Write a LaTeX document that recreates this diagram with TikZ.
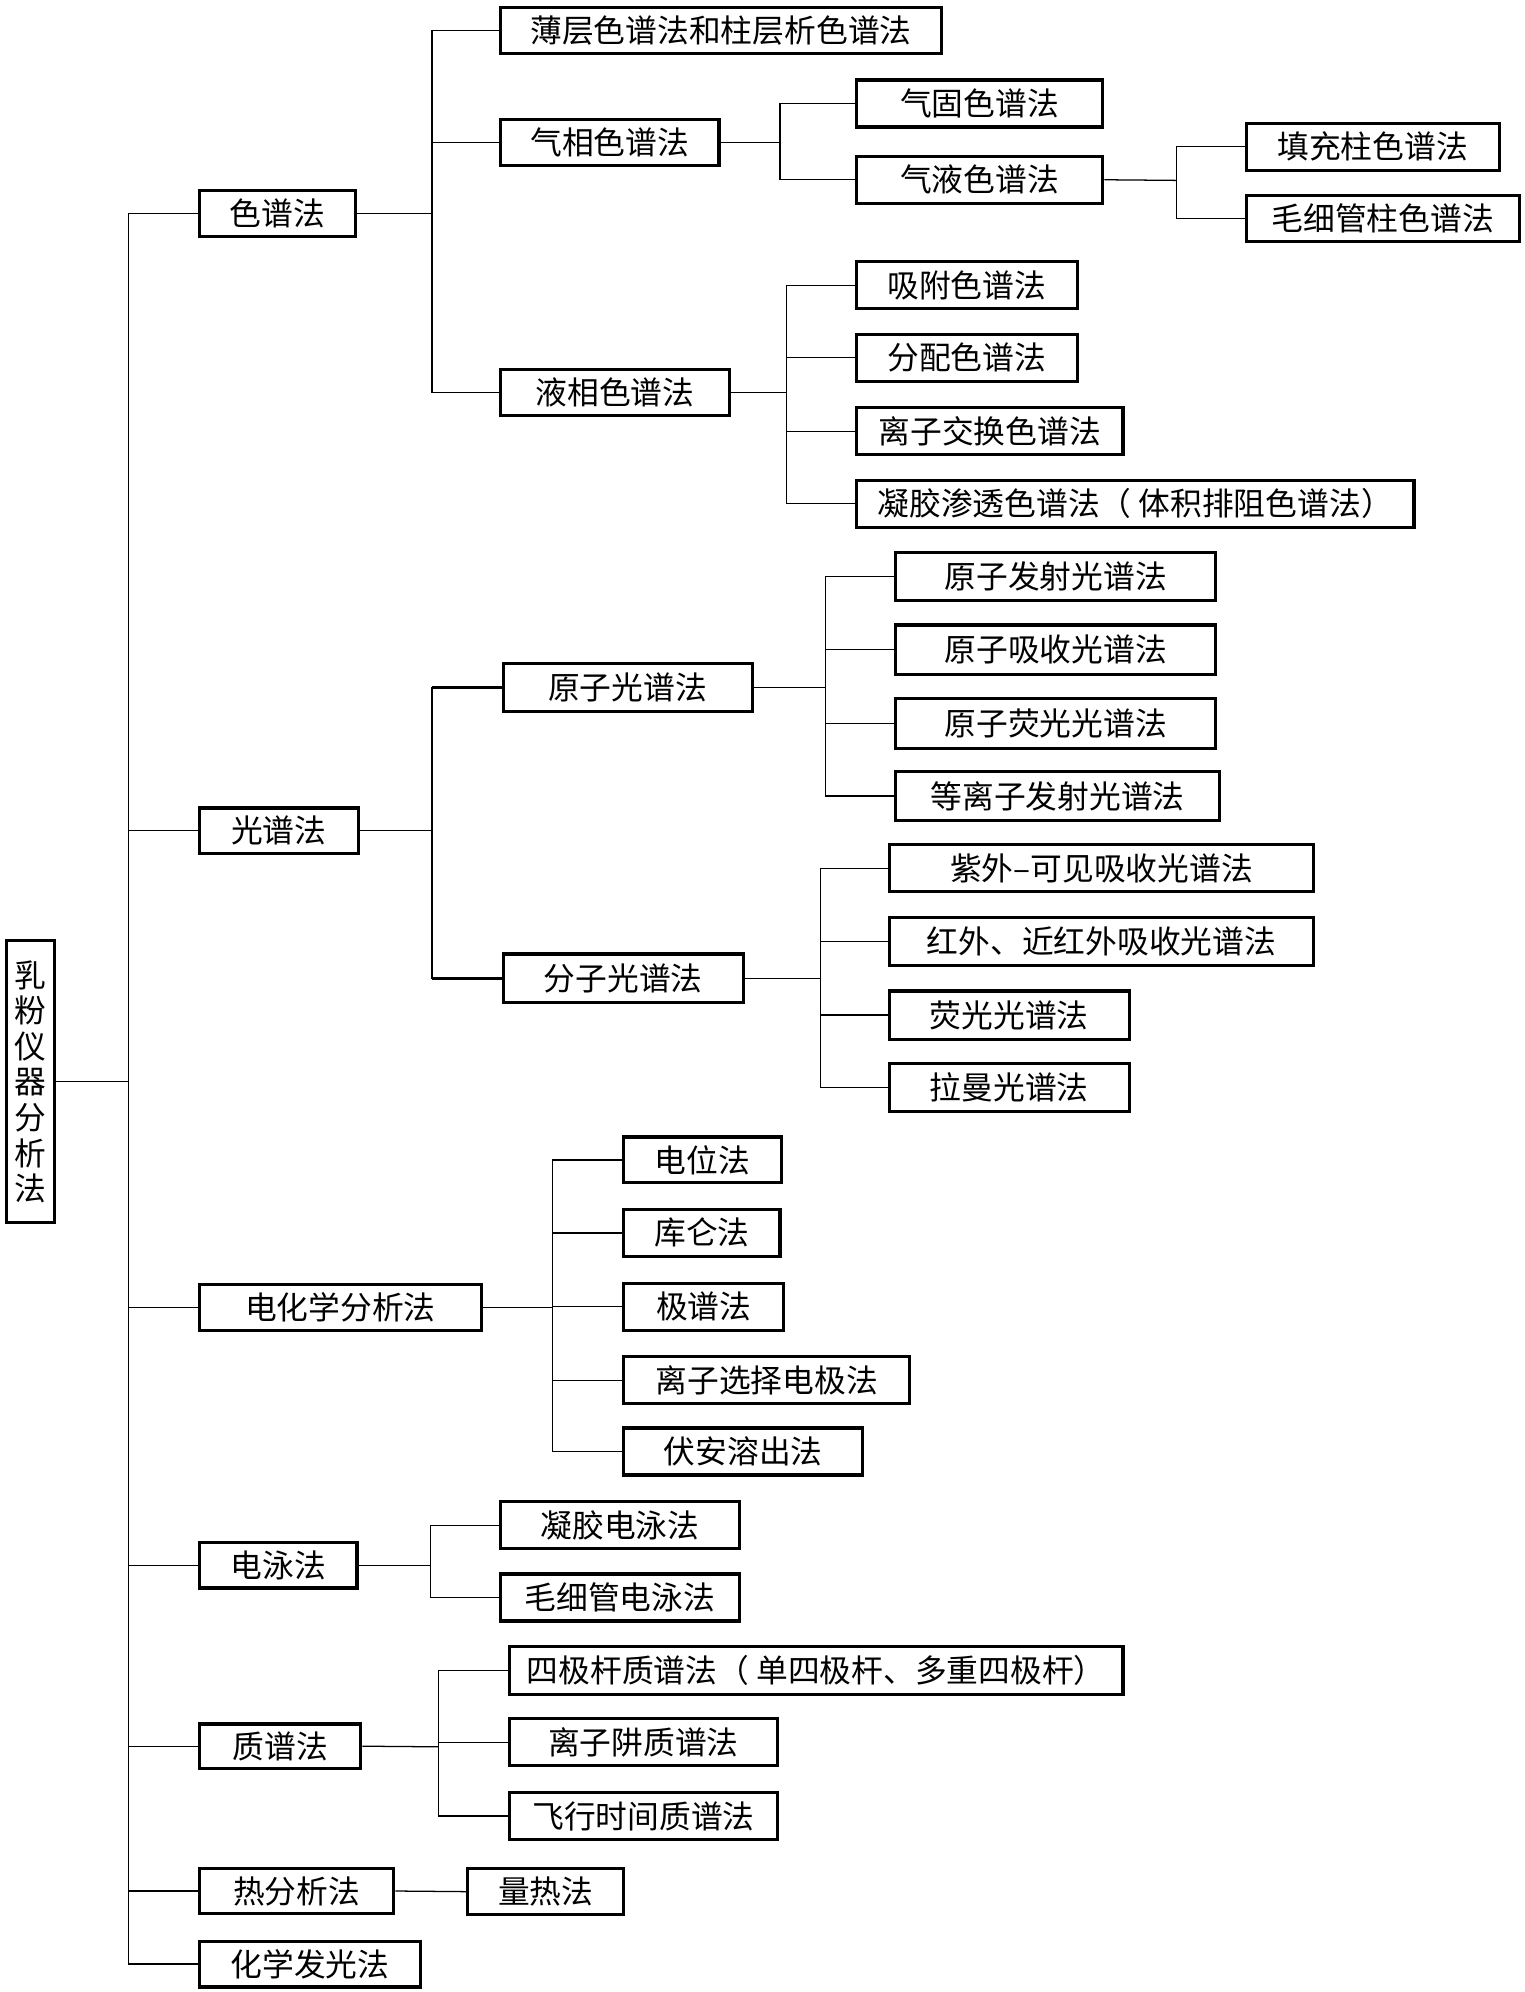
\documentclass[tikz,border=0pt]{standalone}
\usepackage{fontspec}
\newfontfamily\cjk{Noto Sans CJK SC}
\tikzset{
  box/.style={draw=black, line width=1.25pt, inner sep=0pt, font=\cjk\fontsize{12.5}{14}\selectfont, text=black, fill=white},
  conn/.style={draw=black, line width=0.5pt},
  thickconn/.style={draw=black, line width=1.1pt}
}
\newcommand\bx[6]{\node[box, minimum width={(#4-#2)*0.5pt}, minimum height={(#5-#3)*0.5pt}] (#1) at ({(#2+#4)/2},{(#3+#5)/2}) {#6};}
\begin{document}
\begin{tikzpicture}[x=0.5pt, y=-0.5pt]
\useasboundingbox[fill=white] (0,0) rectangle (1200,1568);
% root
\node[box, minimum width=19pt, minimum height=111pt, align=center, font=\cjk\fontsize{12.5}{14}\selectfont] (root) at (24,851.5) {乳\\粉\\仪\\器\\分\\析\\法};
% level 1
\bx{sp}{157}{150}{280}{186}{色谱法}
\bx{gp}{157}{636}{282}{672}{光谱法}
\bx{dh}{157}{1011}{379}{1047}{电化学分析法}
\bx{dy}{157}{1214}{281}{1250}{电泳法}
\bx{zp}{157}{1357}{284}{1392}{质谱法}
\bx{rf}{157}{1471}{310}{1506}{热分析法}
\bx{hx}{157}{1528}{331}{1564}{化学发光法}
% chromatography
\bx{bc}{394}{6}{741}{42}{薄层色谱法和柱层析色谱法}
\bx{qx}{394}{94}{566}{130}{气相色谱法}
\bx{yx}{394}{291}{574}{327}{液相色谱法}
\bx{qg}{674}{63}{868}{100}{气固色谱法}
\bx{qy}{674}{123}{868}{160}{气液色谱法}
\bx{tc}{981}{97}{1180}{134}{填充柱色谱法}
\bx{mx}{981}{154}{1196}{190}{毛细管柱色谱法}
\bx{xf}{674}{206}{848}{243}{吸附色谱法}
\bx{fp}{674}{263}{848}{300}{分配色谱法}
\bx{lz}{674}{321}{884}{358}{离子交换色谱法}
\bx{nj}{674}{378}{1113}{415}{凝胶渗透色谱法（ 体积排阻色谱法）}
% spectroscopy
\bx{yz}{396}{522}{592}{560}{原子光谱法}
\bx{fz}{396}{751}{585}{789}{分子光谱法}
\bx{a1}{705}{435}{957}{473}{原子发射光谱法}
\bx{a2}{705}{492}{957}{531}{原子吸收光谱法}
\bx{a3}{705}{550}{957}{589}{原子荧光光谱法}
\bx{a4}{705}{607}{960}{646}{等离子发射光谱法}
\bx{m1}{700}{665}{1034}{702}{紫外–可见吸收光谱法}
\bx{m2}{700}{722}{1034}{760}{红外、近红外吸收光谱法}
\bx{m3}{700}{780}{889}{818}{荧光光谱法}
\bx{m4}{700}{837}{889}{875}{拉曼光谱法}
% electrochemistry
\bx{e1}{491}{895}{615}{931}{电位法}
\bx{e2}{491}{952}{614}{989}{库仑法}
\bx{e3}{491}{1010}{617}{1047}{极谱法}
\bx{e4}{491}{1068}{716}{1105}{离子选择电极法}
\bx{e5}{491}{1124}{679}{1161}{伏安溶出法}
% electrophoresis
\bx{d1}{394}{1182}{582}{1219}{凝胶电泳法}
\bx{d2}{394}{1239}{582}{1276}{毛细管电泳法}
% mass spec
\bx{z1}{401}{1296}{884}{1334}{四极杆质谱法（ 单四极杆、多重四极杆）}
\bx{z2}{401}{1353}{612}{1390}{离子阱质谱法}
\bx{z3}{401}{1411}{612}{1448}{飞行时间质谱法}
% thermal
\bx{lr}{368}{1471}{491}{1507}{量热法}
% trunks
\coordinate (T0) at (101,851.5);
\coordinate (T1) at (340,168);
\coordinate (T2) at (614,112);
\coordinate (T3) at (926,142);
\coordinate (T4) at (619,309);
\coordinate (T5) at (340,654);
\coordinate (T6) at (650,541);
\coordinate (T7) at (646,770);
\coordinate (T8) at (435,1029);
\coordinate (T9) at (339,1232);
\coordinate (T10) at (345,1375);
% connectors
\draw[conn] (root.east) -- (T0);
\foreach \c in {sp,gp,dh,dy,zp,rf,hx} \draw[conn] (T0) |- (\c.west);
\draw[thickconn] (T0 |- hx.west) -- (hx.west);
\draw[conn] (sp.east) -- (T1);
\foreach \c in {bc,qx,yx} \draw[conn] (T1) |- (\c.west);
\draw[conn] (qx.east) -- (T2);
\foreach \c in {qg,qy} \draw[conn] (T2) |- (\c.west);
\draw[conn] (qy.east) -- (T3);
\foreach \c in {tc,mx} \draw[conn] (T3) |- (\c.west);
\draw[conn] (yx.east) -- (T4);
\foreach \c in {xf,fp,lz,nj} \draw[conn] (T4) |- (\c.west);
\draw[conn] (gp.east) -- (T5);
\draw[conn] (T5) |- (yz.west);
\draw[conn] (T5) |- (fz.west);
\draw[thickconn] (yz.west) -- (T5 |- yz.west);
\draw[thickconn] (fz.west) -- (T5 |- fz.west);
\draw[conn] (yz.east) -- (T6);
\foreach \c in {a1,a2,a3,a4} \draw[conn] (T6) |- (\c.west);
\draw[conn] (fz.east) -- (T7);
\foreach \c in {m1,m2,m3,m4} \draw[conn] (T7) |- (\c.west);
\draw[conn] (dh.east) -- (T8);
\foreach \c in {e1,e2,e3,e4,e5} \draw[conn] (T8) |- (\c.west);
\draw[conn] (dy.east) -- (T9);
\foreach \c in {d1,d2} \draw[conn] (T9) |- (\c.west);
\draw[conn] (zp.east) -- (T10);
\foreach \c in {z1,z2,z3} \draw[conn] (T10) |- (\c.west);
\draw[conn] (rf.east) -- (lr.west);
\end{tikzpicture}
\end{document}
